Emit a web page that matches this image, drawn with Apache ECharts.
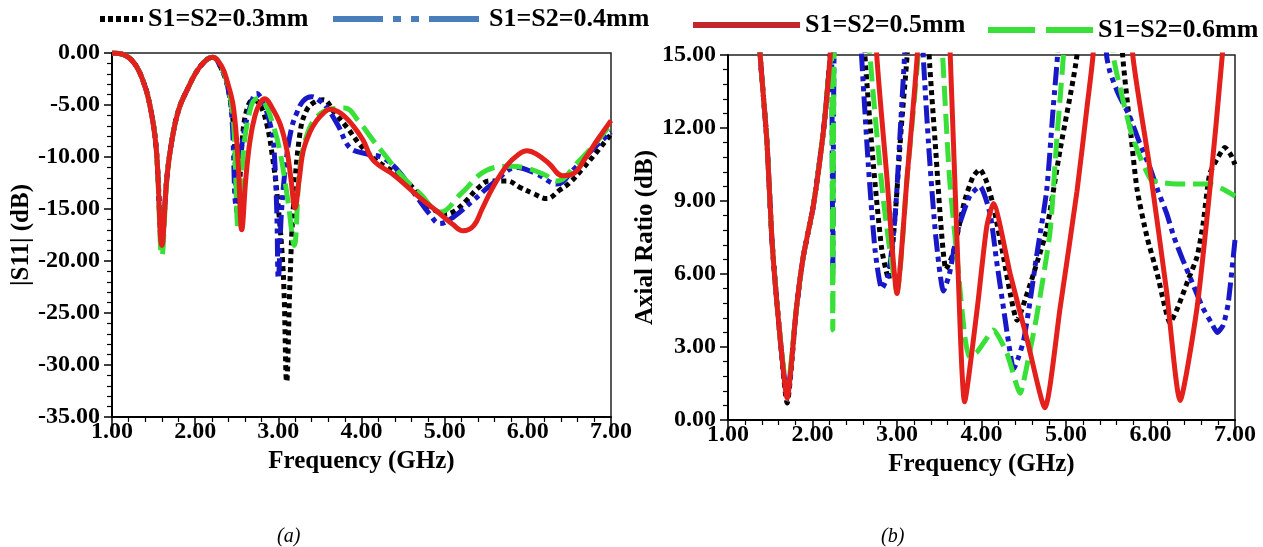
<!DOCTYPE html>
<html>
<head>
<meta charset="utf-8">
<script src="https://cdn.jsdelivr.net/npm/echarts@6/dist/echarts.min.js"></script>
<style>
html, body { margin: 0; padding: 0; background: #fff; }
#chart { width: 1263px; height: 547px; }
</style>
</head>
<body>
<div id="chart"></div>
<script>
var names = ["S1=S2=0.3mm", "S1=S2=0.4mm", "S1=S2=0.5mm", "S1=S2=0.6mm"];
var xTicks = [1, 2, 3, 4, 5, 6, 7];

// |S11| (dB) – panel (a)
var s11F03 = [1.0,1.15,1.27,1.37,1.45,1.53,1.6,1.66,1.72,1.8,1.9,2.06,2.21,2.32,2.4,2.46,2.51,2.57,2.63,2.7,2.78,2.86,2.93,2.99,3.06,3.1,3.14,3.18,3.26,3.34,3.44,3.54,3.68,3.82,3.98,4.14,4.3,4.43,4.6,4.74,4.88,5.0,5.12,5.26,5.4,5.54,5.75,5.9,6.06,6.23,6.38,6.5,6.65,6.8,7.0];
var s11V03 = [0,-0.2,-1.0,-2.6,-4.8,-9,-18,-12,-8.4,-5.5,-3.6,-1.3,-0.4,-1.6,-3.6,-7,-15.5,-8,-5.2,-4.5,-5,-6.8,-10,-14,-21.3,-31.6,-22,-14.9,-7.7,-5.5,-4.7,-4.5,-5.8,-7.1,-8.8,-10.1,-11,-11.6,-12.8,-14.2,-15.1,-15.5,-15.2,-14.2,-13,-12.3,-12.3,-12.9,-13.5,-14,-13.2,-12.5,-11.2,-9.8,-7.8];

var s11F04 = [1.0,1.15,1.27,1.37,1.45,1.53,1.6,1.66,1.72,1.8,1.9,2.06,2.21,2.32,2.38,2.44,2.49,2.53,2.57,2.66,2.74,2.82,2.9,2.94,2.98,3.0,3.04,3.1,3.16,3.22,3.3,3.4,3.5,3.58,3.72,3.86,4.06,4.26,4.46,4.67,4.82,4.94,5.1,5.34,5.6,5.87,6.1,6.35,6.55,6.75,7.0];
var s11V04 = [0,-0.2,-1.0,-2.6,-4.8,-9,-18,-12,-8.4,-5.5,-3.6,-1.3,-0.4,-1.6,-2.8,-6,-14.5,-11,-8.4,-5.2,-3.9,-4.8,-6.8,-8.4,-14.9,-21.7,-15,-10,-7.2,-5.8,-4.6,-4.2,-4.6,-5.2,-7,-9.1,-9.7,-10.1,-11.5,-13.9,-15.5,-16.4,-15.8,-14.2,-12.4,-11,-11.6,-12.6,-11.2,-9.5,-7.6];

var s11F05 = [1.0,1.15,1.27,1.37,1.45,1.53,1.6,1.66,1.72,1.8,1.9,2.06,2.21,2.32,2.38,2.46,2.52,2.56,2.61,2.66,2.72,2.78,2.84,2.92,3.02,3.1,3.15,3.2,3.25,3.3,3.38,3.46,3.54,3.62,3.75,3.9,4.02,4.14,4.4,4.7,4.95,5.1,5.22,5.35,5.45,5.58,5.75,5.88,5.99,6.1,6.25,6.42,6.55,6.7,6.85,7.0];
var s11V05 = [0,-0.2,-1.0,-2.6,-4.8,-9,-18.5,-12,-8.4,-5.5,-3.6,-1.3,-0.4,-1.3,-2.6,-5.2,-11,-17,-12,-8.4,-6,-4.8,-4.4,-5.2,-6.8,-9.2,-12,-14.9,-12.2,-9.4,-7.6,-6.5,-5.8,-5.4,-5.8,-7,-8.4,-10.3,-11.8,-13.9,-15.5,-16.5,-17.1,-16.6,-15,-12.9,-10.8,-9.8,-9.4,-9.7,-10.6,-11.8,-11.6,-10,-8.2,-6.5];

var s11F06 = [1.0,1.15,1.27,1.37,1.45,1.53,1.6,1.66,1.72,1.8,1.9,2.06,2.21,2.32,2.4,2.46,2.52,2.58,2.66,2.74,2.82,2.92,3.02,3.12,3.19,3.26,3.36,3.48,3.62,3.8,3.96,4.14,4.3,4.46,4.7,4.95,5.2,5.5,5.8,6.0,6.2,6.35,6.6,6.8,7.0];
var s11V06 = [0,-0.2,-1.0,-2.6,-4.8,-9,-19.5,-12,-8.4,-5.5,-3.6,-1.3,-0.4,-1.4,-3.4,-6.5,-17,-9.5,-5.5,-4.4,-4.6,-6.5,-9.5,-14.5,-18.5,-11,-7.5,-6,-5.4,-5.3,-6.5,-8.4,-10,-11.6,-13.5,-15.3,-13.5,-11.3,-10.9,-11.1,-11.7,-12.3,-10.5,-8.8,-6.8];

// Axial Ratio (dB) – panel (b); values above 15 run off the top of the plot
var arF03 = [1.3,1.38,1.46,1.52,1.6,1.7,1.81,1.89,2.01,2.13,2.21,2.3,2.55,2.62,2.72,2.82,2.9,2.98,3.05,3.12,3.2,3.32,3.38,3.46,3.52,3.58,3.66,3.8,3.9,3.98,4.06,4.14,4.26,4.34,4.42,4.54,4.66,4.77,4.93,5.13,5.22,5.6,5.67,5.76,5.84,5.96,6.08,6.16,6.23,6.32,6.45,6.55,6.62,6.7,6.8,6.88,6.95,7.0];
var arV03 = [20,15,11.5,7.4,4.0,0.7,4.6,6.7,8.8,11.9,15,20,20,15,10.5,7,5.8,8.5,12,15,20,20,15,11,8,6.2,6.8,9,10,10.3,9.8,8.8,6.7,5.2,4.1,5.2,6.5,7.8,11.1,15,20,20,15,12,9.5,7.5,6,4.8,4.0,4.6,5.8,6.7,8,10.1,10.8,11.2,10.9,10.5];

var arF04 = [1.3,1.38,1.46,1.52,1.6,1.7,1.81,1.89,2.01,2.13,2.2,2.225,2.24,2.255,2.3,2.5,2.58,2.66,2.74,2.82,2.9,2.98,3.04,3.09,3.16,3.25,3.31,3.38,3.46,3.55,3.62,3.72,3.86,3.98,4.1,4.18,4.26,4.32,4.38,4.44,4.5,4.58,4.65,4.77,4.85,4.9,4.98,5.4,5.48,5.52,5.62,5.75,5.87,5.99,6.09,6.19,6.28,6.38,6.5,6.62,6.72,6.79,6.86,6.92,7.0];
var arV04 = [20,15,11.5,7.4,4.0,1.0,4.6,6.7,8.8,11.9,14.5,15,6.0,15,20,20,15,10.5,7,5.4,6,8.5,12,15,20,20,15,11,7.5,5.3,6,7.8,9.2,9.6,8.5,6.5,4.6,3.2,2.1,2.6,3.3,5,6.7,9.4,12.9,15,20,20,15,14.3,13.4,12.5,11.4,10.4,9.4,8.5,7.5,6.6,5.6,4.6,4.0,3.6,3.9,4.8,7.4];

var arF05 = [1.3,1.38,1.46,1.52,1.6,1.7,1.81,1.89,2.01,2.13,2.21,2.3,2.7,2.76,2.88,3.0,3.12,3.24,3.3,3.56,3.63,3.71,3.8,3.95,4.06,4.14,4.34,4.54,4.75,4.93,5.13,5.25,5.32,5.4,5.72,5.79,5.99,6.19,6.35,6.55,6.7,6.85,6.95];
var arV05 = [20,15,11.5,7.4,4.0,0.9,4.6,6.7,8.8,11.9,15,20,20,15,10,5.2,10,15,20,20,15,7.4,0.75,4.6,7.9,8.9,6.0,3.3,0.5,4.6,9.4,12.9,15,20,20,15,10.4,5.3,0.8,4.6,9.4,15,20];

var arF06 = [1.3,1.38,1.46,1.52,1.6,1.7,1.81,1.89,2.01,2.13,2.2,2.225,2.24,2.255,2.3,2.6,2.68,2.84,3.0,3.12,3.25,3.32,3.47,3.54,3.62,3.71,3.8,3.86,3.95,4.05,4.14,4.3,4.46,4.5,4.65,4.81,4.89,4.97,5.05,5.5,5.56,5.63,5.79,6.0,6.15,6.31,6.5,6.7,6.85,7.0];
var arV06 = [20,15,11.5,7.4,4.0,1.2,4.6,6.7,8.8,11.9,14.5,15,3.7,15,20,20,15,9,5.3,10,15,20,20,15,10,6.7,3.5,2.6,2.8,3.3,3.7,2.75,1.1,1.6,4.2,7.7,11.5,15,20,20,15,13.8,11.6,9.9,9.75,9.7,9.7,9.7,9.5,9.2];

function pairs(f, v) {
    return f.map(function (x, i) { return [x, v[i]]; });
}

var font = "'Liberation Serif', 'Times New Roman', serif";
var styles = [
    { color: "#000000", type: [5, 4] },
    { color: "#1818c8", type: [18, 5, 5, 5, 5, 5] },
    { color: "#e3201b", type: "solid" },
    { color: "#38e038", type: [20, 8] }
];
var legendLook = [
    { left: 97, top: 6, w: 43, color: "#000000", type: [5, 3] },
    { left: 330, top: 6, w: 151, color: "#4a7ebb", type: [50, 10, 8, 10, 8, 10] },
    { left: 690, top: 12, w: 107, color: "#c1272d", type: "solid" },
    { left: 985, top: 17, w: 105, color: "#38e038", type: [47, 11] }
];

function xAx(grid) {
    return {
        type: "value", gridIndex: grid, min: 1, max: 7, interval: 1,
        name: "Frequency (GHz)", nameLocation: "middle", nameGap: 24,
        nameTextStyle: { fontFamily: font, fontWeight: "bold", fontSize: 25, color: "#000" },
        axisLine: { onZero: false, lineStyle: { color: "#000", width: 2 } },
        axisTick: { length: 8, lineStyle: { color: "#000", width: 1.5 } },
        minorTick: { show: true, splitNumber: 5, length: 5, lineStyle: { color: "#000", width: 1.2 } },
        splitLine: { show: false },
        axisLabel: { margin: 3, fontFamily: font, fontWeight: "bold", fontSize: 24, color: "#000",
            formatter: function (v) { return v.toFixed(2); } }
    };
}
function yAx(grid, min, max, step, name, gap) {
    return {
        type: "value", gridIndex: grid, min: min, max: max, interval: step,
        name: name, nameLocation: "middle", nameGap: gap,
        nameTextStyle: { fontFamily: font, fontWeight: "bold", fontSize: 25, color: "#000" },
        axisLine: { show: true, lineStyle: { color: "#000", width: 2 } },
        axisTick: { length: 8, lineStyle: { color: "#000", width: 1.5 } },
        minorTick: { show: true, splitNumber: 5, length: 5, lineStyle: { color: "#000", width: 1.2 } },
        splitLine: { show: false },
        axisLabel: { margin: 12, fontFamily: font, fontWeight: "bold", fontSize: 24, color: "#000",
            formatter: function (v) { return v.toFixed(2); } }
    };
}

var s11Data = [pairs(s11F03, s11V03), pairs(s11F04, s11V04), pairs(s11F05, s11V05), pairs(s11F06, s11V06)];
var arData = [pairs(arF03, arV03), pairs(arF04, arV04), pairs(arF05, arV05), pairs(arF06, arV06)];
var order = [0, 1, 3, 2];

var series = [];
order.forEach(function (k) {
    series.push({
        name: names[k], type: "line", xAxisIndex: 0, yAxisIndex: 0, data: s11Data[k],
        smooth: 0.4, symbol: "none", clip: true,
        itemStyle: { color: styles[k].color },
        lineStyle: { color: styles[k].color, width: 5, type: styles[k].type }
    });
});
order.forEach(function (k) {
    series.push({
        name: names[k], type: "line", xAxisIndex: 1, yAxisIndex: 1, data: arData[k],
        smooth: 0.2, symbol: "none", clip: true,
        itemStyle: { color: styles[k].color },
        lineStyle: { color: styles[k].color, width: 5, type: styles[k].type }
    });
});

var legends = legendLook.map(function (l, i) {
    return {
        left: l.left, top: l.top, padding: 0, itemWidth: l.w, itemHeight: 14, selectedMode: false,
        textStyle: { fontFamily: font, fontWeight: "bold", fontSize: 26, color: "#000" },
        data: [{
            name: names[i],
            itemStyle: { color: "rgba(0,0,0,0)", borderWidth: 0, opacity: 0 },
            lineStyle: { color: l.color, width: 6, type: l.type }
        }]
    };
});

var chart = echarts.init(document.getElementById("chart"));
chart.setOption({
    animation: false,
    backgroundColor: "#fff",
    legend: legends,
    title: [
        { text: "(a)", left: 272, top: 522, textStyle: { fontFamily: font, fontStyle: "italic", fontWeight: "normal", fontSize: 20, color: "#000" } },
        { text: "(b)", left: 876, top: 522, textStyle: { fontFamily: font, fontStyle: "italic", fontWeight: "normal", fontSize: 20, color: "#000" } }
    ],
    grid: [
        { left: 112, top: 53, right: 652, bottom: 130, show: true, borderColor: "#222", borderWidth: 1.5 },
        { left: 728, top: 55, right: 28, bottom: 127, show: true, borderColor: "#222", borderWidth: 1.5 }
    ],
    xAxis: [xAx(0), xAx(1)],
    yAxis: [yAx(0, -35, 0, 5, "|S11| (dB)", 75), yAx(1, 0, 15, 3, "Axial Ratio (dB)", 67)],
    series: series
});
</script>
</body>
</html>
